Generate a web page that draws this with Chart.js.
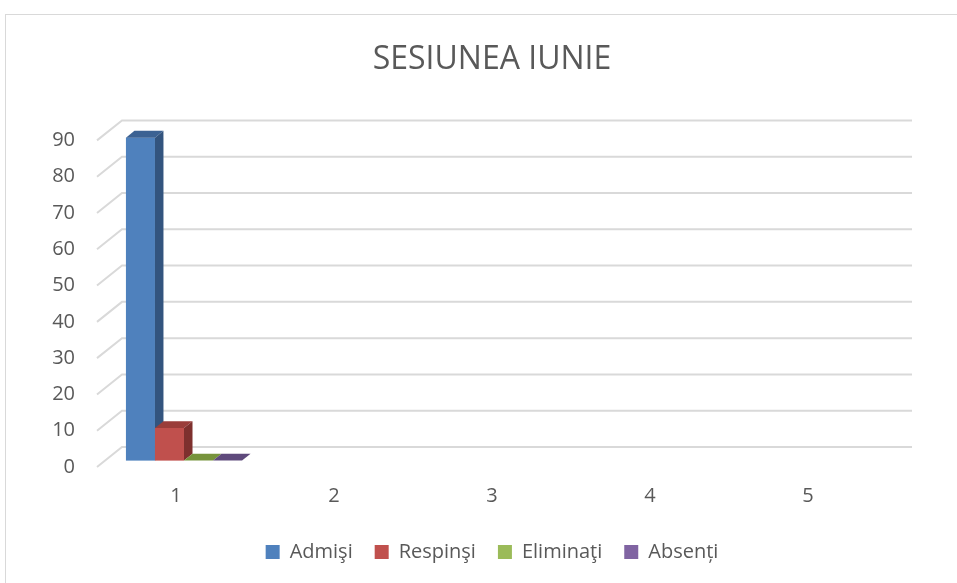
<!DOCTYPE html>
<html>
<head>
<meta charset="utf-8">
<script src="https://cdn.jsdelivr.net/npm/chart.js@4"></script>
<style>
  html, body { margin: 0; padding: 0; background: #fff; overflow: hidden; }
  #frame { position: absolute; left: 5px; top: 14px; width: 1000px; height: 620px; border: 1px solid #d9d9d9; }
  #sesiune { position: absolute; left: 0; top: 0; }
</style>
</head>
<body>
<div id="frame"></div>
<canvas id="sesiune" width="957" height="583"></canvas>
<script>
var categories = ['1', '2', '3', '4', '5']
var admisi    = [89, null, null, null, null]
var respinsi  = [9, null, null, null, null]
var eliminati = [0, null, null, null, null]
var absenti   = [0, null, null, null, null]
var yMax = 90
var yStep = 10

var textColor = '#595959'
var gridColor = '#d9d9d9'
var fontFamily = "'Open Sans', 'Liberation Sans', sans-serif"

// fake depth: back wall offset and where bars sit inside it
var DX = 25, DY = -20
var f1 = 0.32, f2 = 0.66
var topColors  = ['#3c6293', '#9a3d3a', '#77933c', '#5f4a7c']
var sideColors = ['#33547e', '#7e302e', '#627a31', '#4f3e67']

var depth3d = {
  id: 'depth3d',
  beforeDatasetsDraw: function (chart) {
    var ctx = chart.ctx
    var a = chart.chartArea
    var y = chart.scales.y

    // back wall grid + diagonals on the left side
    ctx.save()
    ctx.strokeStyle = gridColor
    ctx.lineWidth = 2
    y.ticks.forEach(function (t) {
      var yy = y.getPixelForValue(t.value)
      ctx.beginPath()
      ctx.moveTo(a.left, yy)
      ctx.lineTo(a.left + DX, yy + DY)
      ctx.lineTo(a.right + DX, yy + DY)
      ctx.stroke()
    })
    ctx.restore()

    // bars, drawn in dataset order so the nearer faces overlap right
    var d = f2 - f1
    chart.data.datasets.forEach(function (ds, i) {
      var meta = chart.getDatasetMeta(i)
      if (meta.hidden) return
      meta.data.forEach(function (bar, j) {
        if (ds.data[j] == null) return
        var p = bar.getProps(['x', 'y', 'base', 'width'], true)
        var left = p.x - p.width / 2 + f1 * DX
        var right = left + p.width
        var top = p.y + f1 * DY
        var bottom = p.base + f1 * DY

        ctx.save()
        ctx.fillStyle = ds.backgroundColor
        ctx.fillRect(left, top, right - left, bottom - top)

        ctx.fillStyle = topColors[i]
        ctx.beginPath()
        ctx.moveTo(left, top)
        ctx.lineTo(right, top)
        ctx.lineTo(right + d * DX, top + d * DY)
        ctx.lineTo(left + d * DX, top + d * DY)
        ctx.closePath()
        ctx.fill()

        ctx.fillStyle = sideColors[i]
        ctx.beginPath()
        ctx.moveTo(right, top)
        ctx.lineTo(right + d * DX, top + d * DY)
        ctx.lineTo(right + d * DX, bottom + d * DY)
        ctx.lineTo(right, bottom)
        ctx.closePath()
        ctx.fill()
        ctx.restore()
      })
    })
    return false
  }
}

var ctx = document.getElementById('sesiune').getContext('2d')

new Chart(ctx, {
  type: 'bar',
  data: {
    labels: categories,
    datasets: [
      { label: 'Admişi', data: admisi, backgroundColor: '#4f81bd' },
      { label: 'Respinşi', data: respinsi, backgroundColor: '#c0504d' },
      { label: 'Eliminaţi', data: eliminati, backgroundColor: '#9bbb59' },
      { label: 'Absenți', data: absenti, backgroundColor: '#8064a2' }
    ]
  },
  options: {
    responsive: false,
    animation: false,
    datasets: {
      bar: { barPercentage: 1, categoryPercentage: 0.735 }
    },
    layout: {
      padding: { left: 51, right: 70, top: 0, bottom: 11 }
    },
    plugins: {
      // title and legend only span the plot width, so they centre over it
      title: {
        display: true,
        fullSize: false,
        text: 'SESIUNEA IUNIE',
        color: textColor,
        font: { family: fontFamily, size: 32, weight: 'normal' },
        padding: { top: 41, bottom: 61 }
      },
      legend: {
        position: 'bottom',
        fullSize: false,
        labels: {
          color: textColor,
          boxWidth: 14,
          boxHeight: 14,
          padding: 22,
          font: { family: fontFamily, size: 20 }
        }
      },
      tooltip: { enabled: false }
    },
    scales: {
      x: {
        grid: { display: false, drawTicks: false },
        border: { display: false },
        ticks: { color: textColor, padding: 17, font: { family: fontFamily, size: 20 } },
        afterFit: function (scale) { scale.height = 53 }
      },
      y: {
        min: 0,
        max: yMax,
        grid: { display: false, drawTicks: false },
        border: { display: false },
        ticks: { stepSize: yStep, color: textColor, padding: 22, font: { family: fontFamily, size: 20 } },
        afterFit: function (scale) { scale.width = 46 }
      }
    }
  },
  plugins: [depth3d]
})
</script>
</body>
</html>
